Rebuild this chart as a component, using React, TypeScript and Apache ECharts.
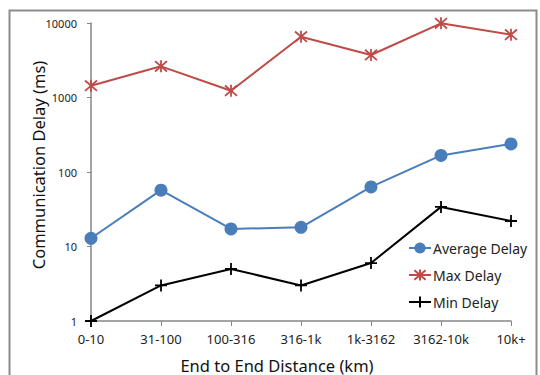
import React, { useEffect, useRef } from "react";
import * as echarts from "echarts";

const categories = ["0-10", "31-100", "100-316", "316-1k", "1k-3162", "3162-10k", "10k+"];
const avgDelay = [12.9, 57, 17.2, 18.1, 63, 167, 238];
const maxDelay = [1440, 2620, 1234, 6550, 3720, 9900, 6970];
const minDelay = [1, 3, 5, 3, 6, 34, 22];

const FONT = "Noto Sans";
const STAR = "path://M0,-6L0,6M-5.2,-5.2L5.2,5.2M-5.2,5.2L5.2,-5.2";
const PLUS = "path://M-6,0L6,0M0,-6L0,6";

export default function App() {
  const ref = useRef<HTMLDivElement>(null);
  useEffect(() => {
    if (!ref.current) return;
    const chart = echarts.init(ref.current, null, { renderer: "svg" });
    chart.setOption({
      animation: false,
      backgroundColor: "#ffffff",
      textStyle: { fontFamily: FONT },
      grid: { left: 91, right: 29, top: 23, bottom: 54, containLabel: false },
      xAxis: {
        type: "category",
        data: categories,
        boundaryGap: false,
        axisLine: { lineStyle: { color: "#868686", width: 1.5 } },
        axisTick: { alignWithLabel: true, interval: 0, length: 5, lineStyle: { color: "#868686" } },
        axisLabel: { color: "#222", fontSize: 13, margin: 11, interval: 0, fontFamily: FONT },
        splitLine: { show: false },
      },
      yAxis: {
        type: "log",
        logBase: 10,
        min: 1,
        max: 10000,
        axisLine: { show: true, lineStyle: { color: "#868686", width: 1.5 } },
        axisTick: { show: true, length: 4, lineStyle: { color: "#868686" } },
        axisLabel: {
          color: "#222",
          fontSize: 11,
          margin: 14,
          fontFamily: FONT,
          formatter: (v: number) => String(Math.round(v)),
        },
        splitLine: { show: false },
        minorTick: { show: false },
      },
      legend: {
        orient: "vertical",
        left: 403,
        top: 236,
        itemWidth: 22,
        itemHeight: 14,
        itemGap: 13,
        textStyle: { fontSize: 14, color: "#222", fontFamily: FONT, padding: [0, 0, 0, -3] },
        data: ["Average Delay", "Max Delay", "Min Delay"],
      },
      series: [
        {
          name: "Average Delay",
          type: "line",
          data: avgDelay,
          symbol: "circle",
          symbolSize: 13,
          itemStyle: { color: "#4A7EBB" },
          lineStyle: { color: "#4A7EBB", width: 2 },
        },
        {
          name: "Max Delay",
          type: "line",
          data: maxDelay,
          symbol: STAR,
          symbolSize: 12,
          itemStyle: { color: "rgba(0,0,0,0)", borderColor: "#BE4B48", borderWidth: 1.8 },
          lineStyle: { color: "#BE4B48", width: 2 },
        },
        {
          name: "Min Delay",
          type: "line",
          data: minDelay,
          symbol: PLUS,
          symbolSize: 12,
          itemStyle: { color: "rgba(0,0,0,0)", borderColor: "#000000", borderWidth: 1.8 },
          lineStyle: { color: "#000000", width: 2 },
        },
      ],
      graphic: [
        {
          type: "rect",
          shape: { x: 9.5, y: 10.5, width: 527, height: 380 },
          style: { fill: "none", stroke: "#8c8c8c", lineWidth: 2 },
          silent: true,
        },
        {
          type: "text",
          x: 38,
          y: 165,
          rotation: Math.PI / 2,
          style: {
            text: "Communication Delay (ms)",
            fontSize: 16.5,
            fontFamily: FONT,
            fill: "#111",
            textAlign: "center",
            textVerticalAlign: "middle",
          },
        },
        {
          type: "text",
          x: 277,
          y: 365,
          style: {
            text: "End to End Distance (km)",
            fontSize: 16.5,
            fontFamily: FONT,
            fill: "#111",
            textAlign: "center",
            textVerticalAlign: "middle",
          },
        },
      ],
    });
    return () => chart.dispose();
  }, []);
  return (
    <div
      ref={ref}
      style={{ position: "fixed", left: 0, top: 0, width: 540, height: 375 }}
    />
  );
}
